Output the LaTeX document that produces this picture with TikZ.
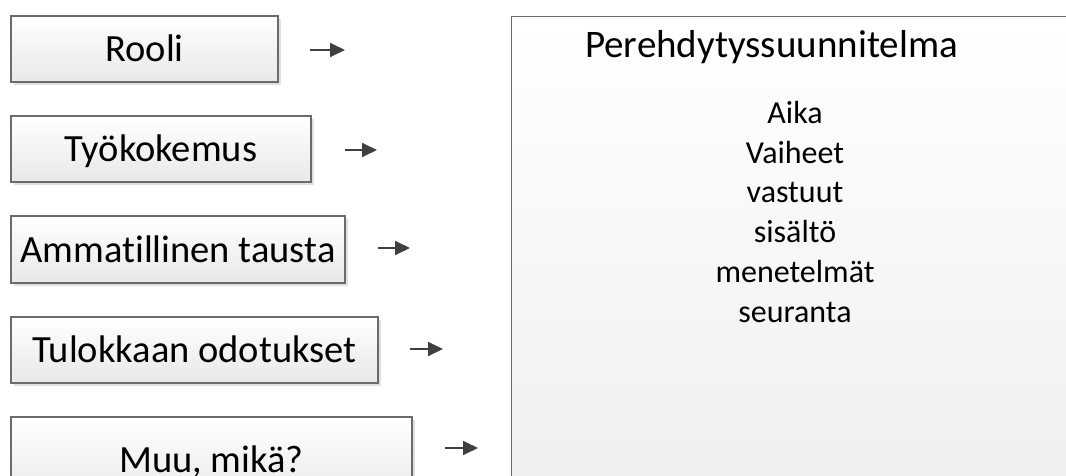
\documentclass[tikz,border=0pt]{standalone}
\usepackage{fontspec}
\setmainfont[Ligatures=NoCommon]{Carlito}
\usetikzlibrary{arrows.meta,shadows}
\begin{document}
\begin{tikzpicture}[x=1pt,y=-1pt,
  inbox/.style={draw=black!58, line width=1.3pt, top color=white, bottom color=black!9,
    font=\fontsize{38.5}{42}\selectfont, text height=25pt, text depth=0pt, inner sep=0pt,
    minimum height=66pt,
    drop shadow={shadow xshift=3pt, shadow yshift=-3pt, fill=black!12, opacity=1}},
  bigbox/.style={draw=black!58, line width=1.3pt, top color=white, bottom color=black!8,
    inner sep=0pt, anchor=north west},
  arr/.style={draw=black!75, line width=1.8pt, -{Triangle[length=15pt,width=14pt]}},
  titletext/.style={font=\fontsize{39}{42}\selectfont, anchor=base},
  item/.style={font=\fontsize{32}{36}\selectfont, anchor=base}
]
\clip (0,0) rectangle (1066,475);
\fill[white] (0,0) rectangle (1066,475);

% big box
\node[bigbox, minimum width=700pt, minimum height=600pt] (plan) at (511,16) {};
\node[titletext] (title) at (771.5,57) {Perehdytyssuunnitelma};
\node[item] (i1) at (795,123) {Aika};
\node[item] (i2) at (795,163) {Vaiheet};
\node[item] (i3) at (795,202.5) {vastuut};
\node[item] (i4) at (795,242) {sisältö};
\node[item] (i5) at (795,282) {menetelmät};
\node[item] (i6) at (795,322) {seuranta};

% input boxes
\node[inbox, minimum width=267pt] (rooli) at (144.5,49) {Rooli};
\node[inbox, minimum width=300pt] (tyo) at (161,149) {Työkokemus};
\node[inbox, minimum width=334pt, minimum height=67pt] (amm) at (178,249.5) {Ammatillinen tausta};
\node[inbox, minimum width=367pt] (tul) at (194.5,350) {Tulokkaan odotukset};
\node[inbox, minimum width=401pt, minimum height=86pt] (muu) at (211.5,460) {Muu, mikä?};

% arrows
\coordinate (a1s) at (310,50);  \coordinate (a1e) at (345,50);
\coordinate (a2s) at (345,150); \coordinate (a2e) at (377,150);
\coordinate (a3s) at (378,248); \coordinate (a3e) at (410,248);
\coordinate (a4s) at (410,349); \coordinate (a4e) at (443,349);
\coordinate (a5s) at (445,448); \coordinate (a5e) at (478,448);
\draw[arr] (a1s) -- (a1e);
\draw[arr] (a2s) -- (a2e);
\draw[arr] (a3s) -- (a3e);
\draw[arr] (a4s) -- (a4e);
\draw[arr] (a5s) -- (a5e);
\end{tikzpicture}
\end{document}
